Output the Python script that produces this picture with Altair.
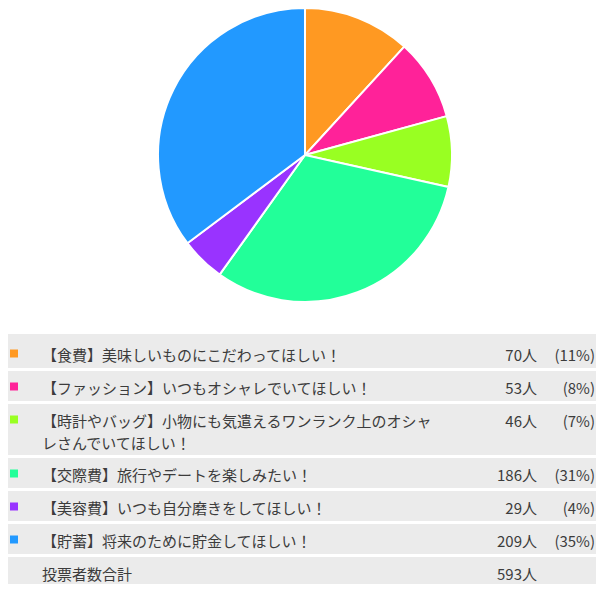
import altair as alt
import pandas as pd

# ---- data ----
labels = [
    "【食費】美味しいものにこだわってほしい！",
    "【ファッション】いつもオシャレでいてほしい！",
    "【時計やバッグ】小物にも気遣えるワンランク上のオシャレさんでいてほしい！",
    "【交際費】旅行やデートを楽しみたい！",
    "【美容費】いつも自分磨きをしてほしい！",
    "【貯蓄】将来のために貯金してほしい！",
]
counts = [70, 53, 46, 186, 29, 209]
pct_shown = [11, 8, 7, 31, 4, 35]
colors = ["#FF9922", "#FF2299", "#99FF22", "#22FF99", "#9933FF", "#2299FF"]
total_label = "投票者数合計"
total = 593
unit = "人"

# ---- layout ----
W, H = 588, 576
WRAP = 26
FONT = "Noto Sans CJK JP"
TXT = "#3c3c3c"


def wrap(s, n=WRAP):
    return [s[i:i + n] for i in range(0, len(s), n)]


rows = []
y = 330
for i, (lab, c, p) in enumerate(zip(labels, counts, pct_shown)):
    lines = wrap(lab)
    h = 30 + 21 * (len(lines) - 1)
    rows.append(dict(idx=i, cat=lab, label="\n".join(lines), count=f"{c}{unit}",
                     pct=f"({p}%)", y0=y - (4 if i == 0 else 0), y1=y + h,
                     ytext=y + 10.5, ymark=y + 15.5))
    y += h + 3
rows.append(dict(idx=len(labels), cat="", label=total_label, count=f"{total}{unit}",
                 pct="", y0=y, y1=H, ytext=y + 10.5, ymark=y + 15.5))
table = pd.DataFrame(rows)
marks_df = table[table["idx"] < len(labels)]
pie_df = pd.DataFrame({"cat": labels, "count": counts, "idx": list(range(len(labels)))})

ys = alt.Scale(domain=[0, H], range=[0, H], nice=False, zero=False)
cscale = alt.Scale(domain=labels, range=colors)

pie = alt.Chart(pie_df).mark_arc(outerRadius=147, stroke="white", strokeWidth=2).encode(
    theta=alt.Theta("count:Q", stack=True),
    color=alt.Color("cat:N", scale=cscale, legend=None),
    order=alt.Order("idx:Q"),
    x=alt.value(297),
    y=alt.value(147),
)

bg = alt.Chart(table).mark_rect(color="#ebebeb").encode(
    x=alt.value(0), x2=alt.value(W),
    y=alt.Y("y0:Q", scale=ys, axis=None), y2="y1:Q",
)

sq = alt.Chart(marks_df).mark_square(size=64, opacity=1).encode(
    x=alt.value(6),
    y=alt.Y("ymark:Q", scale=ys, axis=None),
    color=alt.Color("cat:N", scale=cscale, legend=None),
)

lab_t = alt.Chart(table).mark_text(align="left", baseline="top", font=FONT, fontSize=15,
                                   color=TXT, lineBreak="\n", lineHeight=22).encode(
    x=alt.value(34), y=alt.Y("ytext:Q", scale=ys, axis=None), text="label:N")

cnt_t = alt.Chart(table).mark_text(align="right", baseline="top", font=FONT, fontSize=15,
                                   color=TXT).encode(
    x=alt.value(529), y=alt.Y("ytext:Q", scale=ys, axis=None), text="count:N")

pct_t = alt.Chart(table).mark_text(align="right", baseline="top", font=FONT, fontSize=15,
                                   color=TXT).encode(
    x=alt.value(587), y=alt.Y("ytext:Q", scale=ys, axis=None), text="pct:N")

chart = alt.layer(bg, pie, sq, lab_t, cnt_t, pct_t).properties(
    width=W, height=H, padding=0, autosize=alt.AutoSizeParams(type="none"),
    background="white",
).configure_view(stroke=None)

chart.save("out.html", embed_options={"renderer": "svg", "actions": False})
